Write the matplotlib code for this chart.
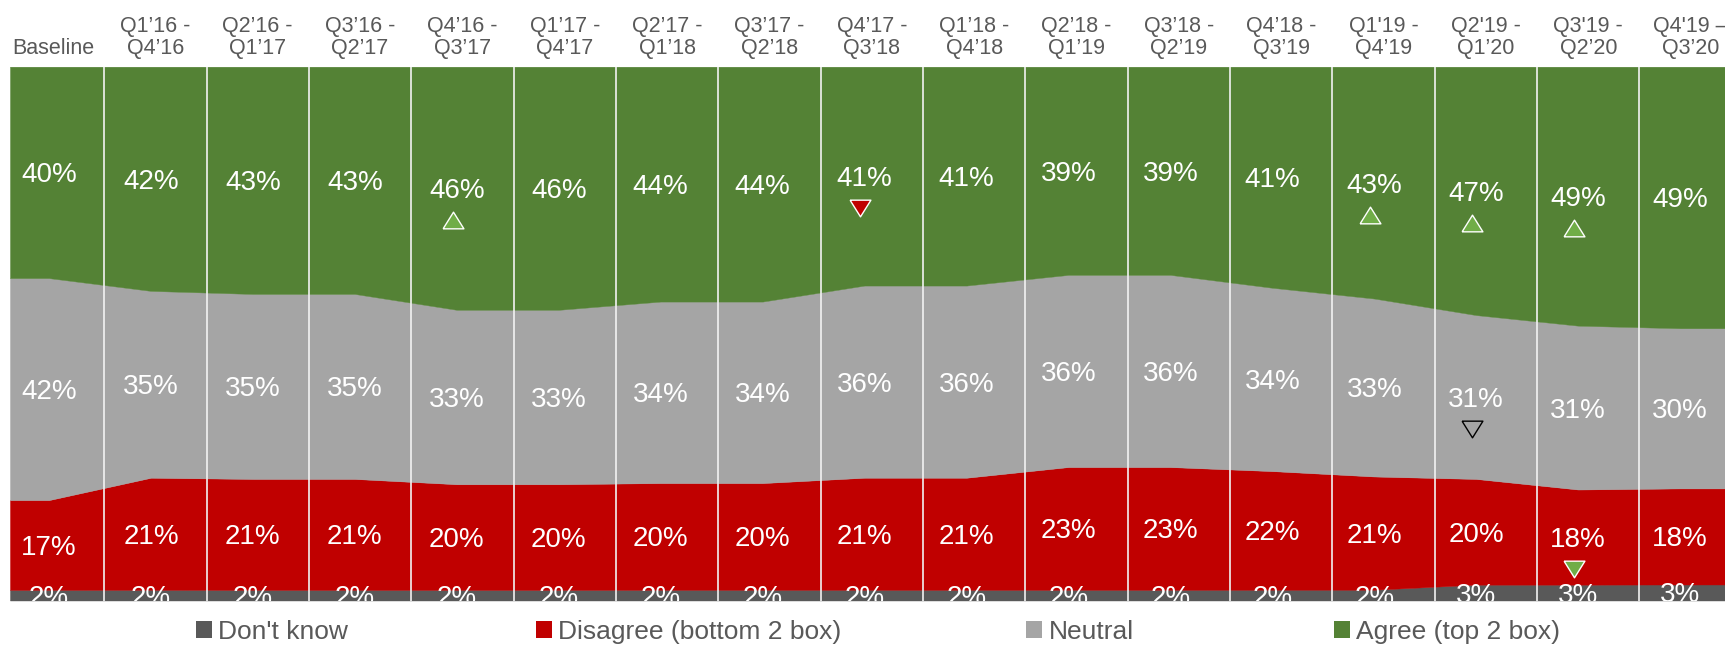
import numpy as np
import matplotlib
matplotlib.use("Agg")
import matplotlib.pyplot as plt
from matplotlib.patches import Patch
from matplotlib.transforms import offset_copy, blended_transform_factory

plt.rcParams['font.family'] = ['Liberation Sans', 'DejaVu Sans']

# ---------------- data ----------------
categories = ["Baseline",
              "Q1’16 -\nQ4’16", "Q2’16 -\nQ1’17", "Q3’16 -\nQ2’17", "Q4’16 -\nQ3’17",
              "Q1’17 -\nQ4’17", "Q2’17 -\nQ1’18", "Q3’17 -\nQ2’18", "Q4’17 -\nQ3’18",
              "Q1’18 -\nQ4’18", "Q2’18 -\nQ1’19", "Q3’18 -\nQ2’19", "Q4’18 -\nQ3’19",
              "Q1'19 -\nQ4’19", "Q2'19 -\nQ1’20", "Q3'19 -\nQ2’20", "Q4'19 –\nQ3’20"]
dont_know = [2, 2, 2, 2, 2, 2, 2, 2, 2, 2, 2, 2, 2, 2, 3, 3, 3]
disagree  = [17, 21, 21, 21, 20, 20, 20, 20, 21, 21, 23, 23, 22, 21, 20, 18, 18]
neutral   = [42, 35, 35, 35, 33, 33, 34, 34, 36, 36, 36, 36, 34, 33, 31, 31, 30]
agree     = [40, 42, 43, 43, 46, 46, 44, 44, 41, 41, 39, 39, 41, 43, 47, 49, 49]
series_names = ["Don't know", "Disagree (bottom 2 box)", "Neutral", "Agree (top 2 box)"]

# significance flags: (series index, column index, direction)
sig_series = [3, 3, 3, 3, 3, 2, 1]
sig_col    = [4, 8, 13, 14, 15, 14, 15]
sig_dir    = ["up", "down", "up", "up", "up", "down", "down"]

# ---------------- style ----------------
colors = ["#595959", "#C00000", "#A5A5A5", "#548235"]
good_col, bad_col = "#70AD47", "#C00000"
text_gray = "#595959"

W, H = 1725, 646
fig = plt.figure(figsize=(W / 100, H / 100), dpi=100)
ax_top, ax_bot, ax_left = 66.7, 600.5, 10
ax = fig.add_axes([ax_left / W, (H - ax_bot) / H, (W - ax_left) / W, (ax_bot - ax_top) / H])

n = len(categories)
x = np.arange(n)
raw = np.array([dont_know, disagree, neutral, agree], float)
vals = raw / raw.sum(axis=0) * 100
cum = np.vstack([np.zeros(n), np.cumsum(vals, axis=0)])

x0, x1 = -0.3826, 16.44
xe = np.concatenate([[x0], x, [x1]])
for k in range(4):
    lo = np.concatenate([[cum[k][0]], cum[k], [cum[k][-1]]])
    hi = np.concatenate([[cum[k + 1][0]], cum[k + 1], [cum[k + 1][-1]]])
    ax.fill_between(xe, lo, hi, facecolor=colors[k], edgecolor=colors[k], lw=0.3)

ax.set_xlim(x0, x1)
ax.set_ylim(0, 100)
ax.axis('off')

# column separators
col_step, col_off = 1.004, 0.039
for k in range(n - 1):
    ax.axvline(col_off + col_step * (k + 0.5), color="#F2F2F2", lw=1.2, zorder=3)

# value labels
fs_val = 20
lab_tr = offset_copy(ax.transData, fig=fig, y=-0.358 * fs_val, units='points')
centers = (cum[:-1] + cum[1:]) / 2
for k in range(4):
    for i in range(n):
        ax.text(x[i], centers[k][i], f"{int(raw[k][i])}%", color="white",
                fontsize=fs_val, ha="center", va="baseline", transform=lab_tr,
                clip_on=True, zorder=4)

# significance markers
mk_tr = offset_copy(ax.transData, fig=fig, y=-32, units='dots')
up_tri = [(-1, -0.8), (1, -0.8), (0, 0.8), (-1, -0.8)]
down_tri = [(-1, 0.8), (1, 0.8), (0, -0.8), (-1, 0.8)]
for s, c, d in zip(sig_series, sig_col, sig_dir):
    if s == 2:
        face, edge = colors[2], "black"
    elif s == 3:
        face, edge = (good_col if d == "up" else bad_col), "white"
    else:
        face, edge = (good_col if d == "down" else bad_col), "white"
    ax.plot(x[c] - 0.04, centers[s][c], marker=up_tri if d == "up" else down_tri,
            ms=15, mfc=face, mec=edge, mew=1.0, transform=mk_tr,
            linestyle="none", zorder=5)

# header labels
htr = blended_transform_factory(ax.transData, fig.transFigure)
for i, cat in enumerate(categories):
    parts = cat.split("\n")
    hx = col_off + col_step * i
    if len(parts) == 2:
        ax.text(hx, (H - 32) / H, parts[0], transform=htr, ha="center", va="baseline",
                fontsize=15.5, color=text_gray, clip_on=False)
    ax.text(hx, (H - 54) / H, parts[-1], transform=htr, ha="center", va="baseline",
            fontsize=15.5, color=text_gray, clip_on=False)

# legend: one entry per block, placed at the reference positions
leg_x = [196, 536, 1026, 1334]
for c, name, lx in zip(colors, series_names, leg_x):
    leg = fig.legend([Patch(facecolor=c, edgecolor="none")], [name], loc="center left",
                     bbox_to_anchor=(lx / W, (H - 632) / H), frameon=False, fontsize=19,
                     handlelength=0.6, handleheight=0.6, handletextpad=0.25,
                     labelcolor=text_gray, borderaxespad=0, borderpad=0)

fig.savefig("out.png", dpi=100)
